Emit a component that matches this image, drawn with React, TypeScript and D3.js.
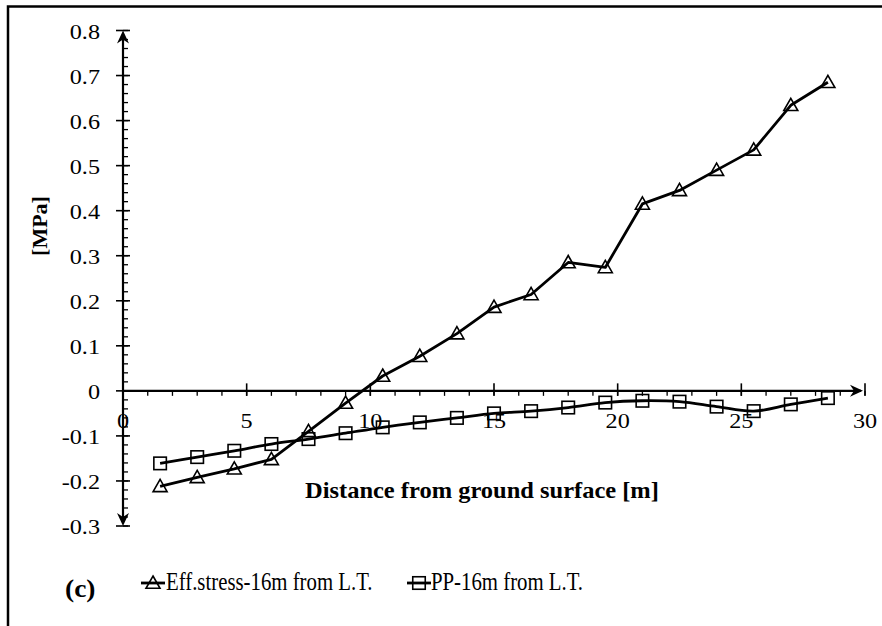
import React from "react";
import * as d3 from "d3";

const distances = [1.5, 3, 4.5, 6, 7.5, 9, 10.5, 12, 13.5, 15, 16.5, 18, 19.5, 21, 22.5, 24, 25.5, 27, 28.5];
const effStress = [-0.212, -0.192, -0.173, -0.152, -0.09, -0.027, 0.033, 0.077, 0.127, 0.186, 0.214, 0.285, 0.274, 0.415, 0.445, 0.49, 0.535, 0.634, 0.685];
const porePressure = [-0.161, -0.147, -0.133, -0.118, -0.107, -0.094, -0.081, -0.07, -0.06, -0.05, -0.045, -0.037, -0.026, -0.022, -0.024, -0.035, -0.045, -0.03, -0.016];
const xTicks = [0, 5, 10, 15, 20, 25, 30];
const yTicks = [0.8, 0.7, 0.6, 0.5, 0.4, 0.3, 0.2, 0.1, 0, -0.1, -0.2, -0.3];
const seriesNames = ["Eff.stress-16m from L.T.", "PP-16m from L.T."];

const FONT = "Liberation Serif";

function T(props: {
  x: number; y: number; size: number; sx?: number; anchor?: string; bold?: boolean; rot?: number; children: any;
}) {
  const { x, y, size, sx = 1, anchor = "start", bold = false, rot = 0, children } = props;
  return (
    <text
      transform={`translate(${x},${y}) rotate(${rot}) scale(${sx},1)`}
      textAnchor={anchor}
      fontSize={size}
      fontWeight={bold ? "bold" : "normal"}
      style={{ fontFamily: FONT }}
      fill="#000"
    >
      {children}
    </text>
  );
}

export default function App() {
  const x = d3.scaleLinear().domain([0, 30]).range([123, 865]);
  const y = d3.scaleLinear().domain([-0.3, 0.8]).range([526, 30.5]);
  const x0 = x(0);
  const y0 = y(0);

  const effPts: [number, number][] = distances.map((d, i) => [x(d), y(effStress[i])]);
  const ppPts: [number, number][] = distances.map((d, i) => [x(d), y(porePressure[i])]);
  const lineLin = d3.line().curve(d3.curveLinear);
  const lineSmooth = d3.line().curve(d3.curveCatmullRom.alpha(0.5));

  const yMinor = d3.range(-0.3, 0.8001, 0.02).map((v) => +v.toFixed(2));
  const xMinor = d3.range(0, 30.001, 1);

  const tri = (cx: number, cy: number, k: number) => {
    const s = 7;
    return (
      <path
        key={k}
        d={`M${cx},${cy - s}L${cx + s},${cy + s * 0.75}L${cx - s},${cy + s * 0.75}Z`}
        fill="none"
        stroke="#000"
        strokeWidth={1.6}
      />
    );
  };
  const sq = (cx: number, cy: number, k: number) => (
    <rect key={k} x={cx - 6.25} y={cy - 6.25} width={12.5} height={12.5} fill="none" stroke="#000" strokeWidth={1.6} />
  );

  const arrow = (tx: number, ty: number, dir: "up" | "down" | "right") => {
    const L = 13, W = 6, N = 4;
    let d = "";
    if (dir === "up") d = `M${tx},${ty}L${tx + W},${ty + L}L${tx},${ty + L - N}L${tx - W},${ty + L}Z`;
    if (dir === "down") d = `M${tx},${ty}L${tx + W},${ty - L}L${tx},${ty - L + N}L${tx - W},${ty - L}Z`;
    if (dir === "right") d = `M${tx},${ty}L${tx - L},${ty - W}L${tx - L + N},${ty}L${tx - L},${ty + W}Z`;
    return <path d={d} fill="#000" />;
  };

  return (
    <svg width={882} height={626} style={{ position: "absolute", left: 0, top: 0, background: "#fff" }}>
      <rect x={0} y={0} width={882} height={626} fill="#fff" />
      <rect x={8} y={6.5} width={1000} height={800} fill="none" stroke="#000" strokeWidth={2.5} />

      {/* Y axis */}
      <line x1={x0} x2={x0} y1={y(0.8) + 4} y2={y(-0.3) - 4} stroke="#000" strokeWidth={2.2} />
      {yMinor.map((v, i) => (
        <line key={"ym" + i} x1={x0} x2={x0 + 5} y1={y(v)} y2={y(v)} stroke="#000" strokeWidth={1.3} />
      ))}
      {yTicks.map((v, i) => (
        <g key={"yt" + i}>
          <line x1={x0 - 7} x2={x0 + 7} y1={y(v)} y2={y(v)} stroke="#000" strokeWidth={1.6} />
          <T x={100} y={y(v) + 8} size={22} sx={1.1} anchor="end">
            {v === 0 ? "0" : v.toFixed(1)}
          </T>
        </g>
      ))}
      {arrow(x0, y(0.8), "up")}
      {arrow(x0, y(-0.3), "down")}

      {/* X axis */}
      <line x1={x0} x2={x(30) - 4} y1={y0} y2={y0} stroke="#000" strokeWidth={2.2} />
      {xMinor.map((v, i) => (
        <line key={"xm" + i} x1={x(v)} x2={x(v)} y1={y0} y2={y0 + 5} stroke="#000" strokeWidth={1.3} />
      ))}
      {xTicks.map((v, i) => (
        <g key={"xt" + i}>
          {v > 0 && <line x1={x(v)} x2={x(v)} y1={y0 - 7.5} y2={y0 + 5} stroke="#000" strokeWidth={1.6} />}
          <T x={x(v)} y={y0 + 37} size={22} sx={1.1} anchor="middle">
            {v}
          </T>
        </g>
      ))}
      {arrow(x(30) - 2, y0, "right")}

      {/* Series */}
      <path d={lineLin(effPts) || ""} fill="none" stroke="#000" strokeWidth={2.8} strokeLinejoin="round" />
      <path d={lineSmooth(ppPts) || ""} fill="none" stroke="#000" strokeWidth={2.8} />
      {effPts.map((p, i) => tri(p[0], p[1], i))}
      {ppPts.map((p, i) => sq(p[0], p[1], i))}

      {/* Titles */}
      <T x={305} y={498} size={24} sx={1.02} bold>
        Distance from ground surface [m]
      </T>
      <T x={47} y={226} size={22} rot={-90} anchor="middle" bold>
        [MPa]
      </T>

      {/* Legend */}
      <line x1={141} x2={165} y1={583} y2={583} stroke="#000" strokeWidth={2.8} />
      {tri(153, 583, 100)}
      <T x={166} y={590} size={26} sx={0.8}>{seriesNames[0]}</T>
      <line x1={407} x2={431} y1={583} y2={583} stroke="#000" strokeWidth={2.8} />
      {sq(419, 583, 101)}
      <T x={431} y={590} size={26} sx={0.8}>{seriesNames[1]}</T>

      <T x={65} y={597} size={25} sx={1.1} bold>(c)</T>
    </svg>
  );
}
